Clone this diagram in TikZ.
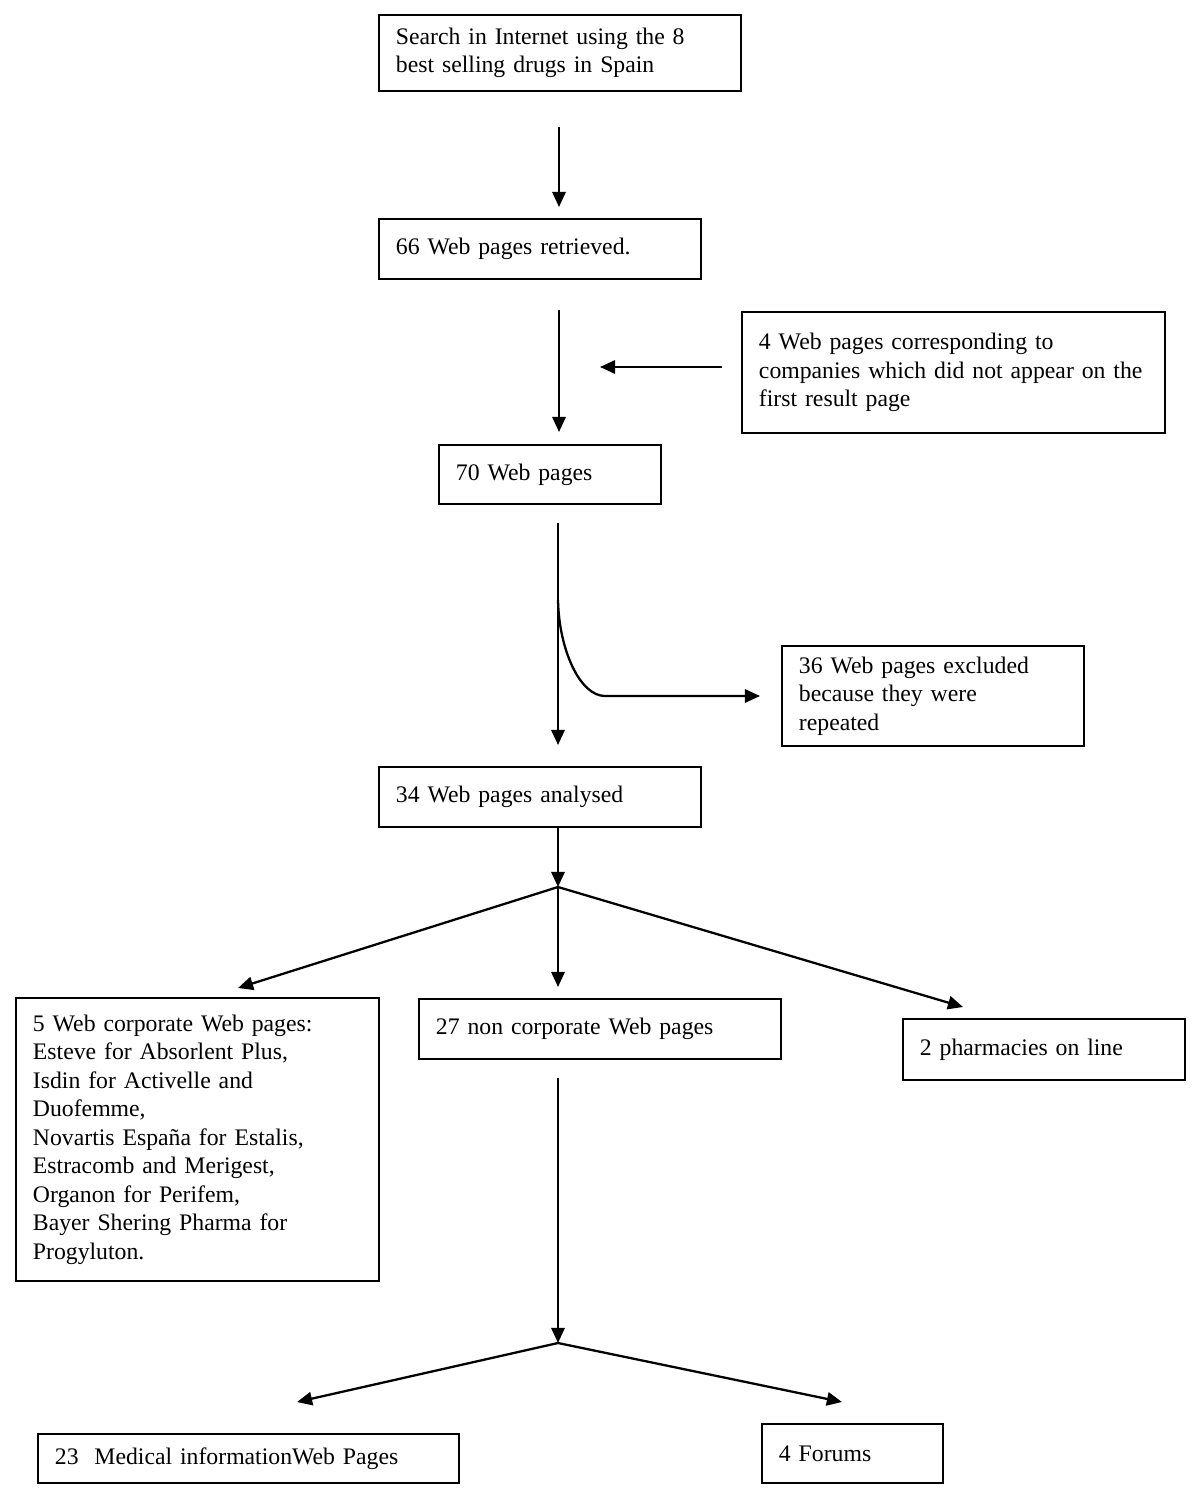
\documentclass[tikz,border=0pt]{standalone}
\usepackage{fontspec}
\setmainfont{Liberation Serif}
\usetikzlibrary{arrows.meta}

\begin{document}
\begin{tikzpicture}[
    box/.style={draw, line width=1.1pt, anchor=north west, align=left,
        inner xsep=0.34cm, inner ysep=0.1cm,
        font=\fontsize{13.5pt}{16.2pt}\selectfont},
    flow/.style={line width=1.3pt, -{Triangle[length=8.6pt,width=7.6pt]}}
]
\useasboundingbox (0,0) rectangle (24,-29.96);

% boxes, top left corners
\node[box, text width=6.56cm, minimum height=1.52cm] (search) at (7.56,-0.28)
    {Search in Internet using the 8\\best selling drugs in Spain}; % start
\node[box, text width=5.76cm, minimum height=1.20cm] (retrieved) at (7.56,-4.36)
    {66 Web pages retrieved.};
\node[box, text width=7.78cm, minimum height=2.42cm] (added) at (14.82,-6.22)
    {4 Web pages corresponding to\\companies which did not appear on the\\first result page};
\node[box, text width=3.76cm, minimum height=1.18cm] (seventy) at (8.76,-8.88)
    {70 Web pages};
\node[box, text width=5.36cm, minimum height=2.00cm] (excluded) at (15.62,-12.90)
    {36 Web pages excluded\\because they were\\repeated};
\node[box, text width=5.76cm, minimum height=1.20cm] (analysed) at (7.56,-15.32)
    {34 Web pages analysed};
\node[box, text width=6.58cm, minimum height=5.66cm] (corporate) at (0.30,-19.94)
    {5 Web corporate Web pages:\\Esteve for Absorlent Plus,\\Isdin for Activelle and\\Duofemme,\\Novartis España for Estalis,\\Estracomb and Merigest,\\Organon for Perifem,\\Bayer Shering Pharma for\\Progyluton.};
\node[box, text width=6.56cm, minimum height=1.20cm] (noncorp) at (8.36,-19.96)
    {27 non corporate Web pages};
\node[box, text width=4.96cm, minimum height=1.22cm] (pharmacies) at (18.04,-20.36)
    {2 pharmacies on line};
\node[box, text width=7.74cm, minimum height=0.98cm] (medical) at (0.74,-28.66)
    {23\ \ Medical informationWeb Pages};
\node[box, text width=2.94cm, minimum height=1.18cm] (forums) at (15.22,-28.46)
    {4 Forums};

% arrow ends
\coordinate (a1) at (11.18,-2.54);  \coordinate (b1) at (11.18,-4.14);
\coordinate (a2) at (11.18,-6.20);  \coordinate (b2) at (11.18,-8.64);
\coordinate (a3) at (14.44,-7.34);  \coordinate (b3) at (12.00,-7.34);
\coordinate (a4) at (11.16,-10.46); \coordinate (b4) at (11.16,-14.90);
\coordinate (c4) at (11.16,-12.00); \coordinate (d4) at (12.10,-13.92);
\coordinate (e4) at (15.20,-13.92);
\coordinate (a5) at (11.16,-16.52); \coordinate (split1) at (11.16,-17.74);
\coordinate (left1) at (4.76,-19.76); \coordinate (mid1) at (11.16,-19.74);
\coordinate (right1) at (19.26,-20.14);
\coordinate (a6) at (11.16,-21.56); \coordinate (split2) at (11.16,-26.86);
\coordinate (left2) at (5.94,-28.04); \coordinate (right2) at (16.84,-28.04);

% connectors
\draw[flow] (a1) -- (b1);
\draw[flow] (a2) -- (b2);
\draw[flow] (a3) -- (b3);
\draw[flow] (a4) -- (b4);
\draw[flow] (c4) .. controls (11.18,-13.0) and (11.60,-13.92) .. (d4) -- (e4);
\draw[flow] (a5) -- (split1);
\draw[flow] (split1) -- (left1);
\draw[flow] (split1) -- (mid1);
\draw[flow] (split1) -- (right1);
\draw[flow] (a6) -- (split2);
\draw[flow] (split2) -- (left2);
\draw[flow] (split2) -- (right2);
\end{tikzpicture}
\end{document}
